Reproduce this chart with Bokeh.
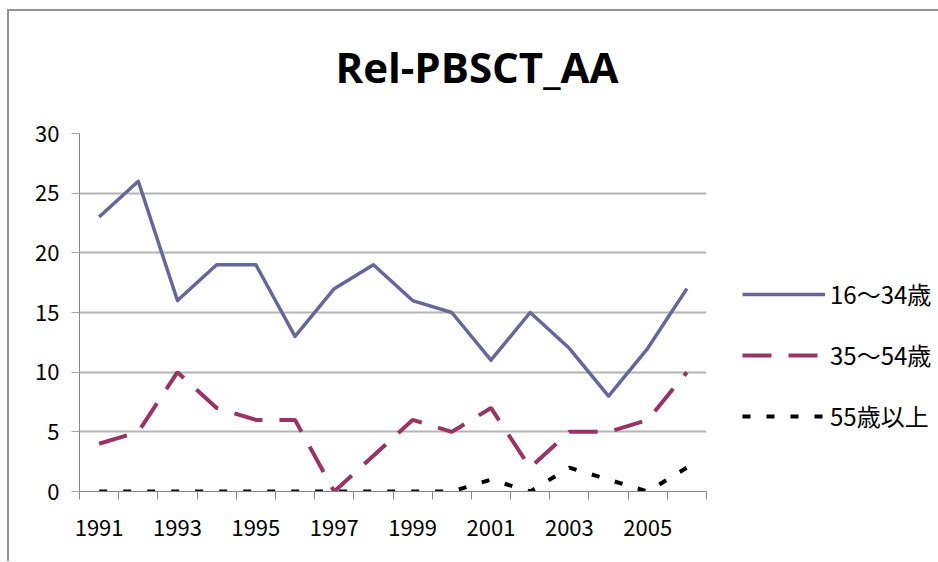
from bokeh.plotting import figure
from bokeh.models import FixedTicker, Legend, LegendItem, Range1d
from bokeh.embed import file_html
from bokeh.resources import INLINE

title_text = "Rel-PBSCT_AA"
years = list(range(1991, 2007))
year_labels = [1991, 1993, 1995, 1997, 1999, 2001, 2003, 2005]
y_ticks = [0, 5, 10, 15, 20, 25, 30]
s1_name = "16～34歳"
s2_name = "35～54歳"
s3_name = "55歳以上"
s1 = [23, 26, 16, 19, 19, 13, 17, 19, 16, 15, 11, 15, 12, 8, 12, 17]
s2 = [4, 5, 10, 7, 6, 6, 0, 3, 6, 5, 7, 2, 5, 5, 6, 10]
s3 = [0, 0, 0, 0, 0, 0, 0, 0, 0, 0, 1, 0, 2, 1, 0, 2]

FONT = "Noto Sans CJK JP"
FRAME_LINE = "linear-gradient(#939393, #939393)"

p = figure(frame_width=627, frame_height=358, output_backend="svg", toolbar_location=None,
           x_range=Range1d(years[0] - 0.5, years[-1] + 0.5), y_range=Range1d(0, 30),
           min_border_left=79, min_border_right=0, min_border_top=132, min_border_bottom=70)
# thin chart-area frame (top and left edges) drawn behind the transparent canvas
p.styles = {"background": (f"{FRAME_LINE} 7px 9px / 100% 2px no-repeat, "
                           f"{FRAME_LINE} 7px 9px / 2px 100% no-repeat, white")}
p.outline_line_color = None
p.background_fill_color = "white"
p.border_fill_color = None

p.title.text = title_text
p.title.align = "left"
p.title.vertical_align = "top"
p.title.offset = 256
p.title.standoff = 74
p.title.text_font = "Open Sans"
p.title.text_font_style = "bold"
p.title.text_font_size = "42px"
p.title.text_color = "black"

# axes
p.yaxis.ticker = FixedTicker(ticks=y_ticks)
p.yaxis.axis_line_color = "#868686"
p.yaxis.major_tick_line_color = "#a6a6a6"
p.yaxis.major_tick_out = 8
p.yaxis.major_tick_in = 0
p.yaxis.minor_tick_line_color = None
p.yaxis.major_label_standoff = 12
p.yaxis.major_label_text_font = FONT
p.yaxis.major_label_text_font_size = "22px"
p.yaxis.major_label_text_color = "black"

boundaries = [y - 0.5 for y in years] + [years[-1] + 0.5]
p.xaxis.ticker = FixedTicker(ticks=year_labels, minor_ticks=boundaries)
p.xaxis.axis_line_color = "#868686"
p.xaxis.major_tick_line_color = None
p.xaxis.major_tick_out = 0
p.xaxis.major_tick_in = 0
p.xaxis.minor_tick_line_color = "#868686"
p.xaxis.minor_tick_out = 8
p.xaxis.minor_tick_in = 0
p.xaxis.major_label_standoff = 20
p.xaxis.major_label_text_font = FONT
p.xaxis.major_label_text_font_size = "22px"
p.xaxis.major_label_text_color = "black"

p.xgrid.grid_line_color = None
p.ygrid.ticker = FixedTicker(ticks=y_ticks)
p.ygrid.grid_line_color = "#b4b4b4"
p.ygrid.grid_line_width = 2

r1 = p.line(years, s1, line_color="#66669c", line_width=3.5, line_join="round")
r2 = p.line(years, s2, line_color="#993366", line_width=4, line_dash="29 17")
r3 = p.line(years, s3, line_color="black", line_width=4, line_dash="8 16")

legend = Legend(items=[LegendItem(label=s1_name, renderers=[r1]),
                       LegendItem(label=s2_name, renderers=[r2]),
                       LegendItem(label=s3_name, renderers=[r3])],
                location=(36, 58), orientation="vertical",
                padding=0, margin=0, spacing=26,
                glyph_width=83, glyph_height=20, label_height=20,
                label_standoff=5, border_line_color=None, background_fill_alpha=0,
                label_text_font=FONT, label_text_font_size="24px",
                label_text_color="black")
p.add_layout(legend, "right")

open("out.html", "w").write(file_html(p, INLINE))
